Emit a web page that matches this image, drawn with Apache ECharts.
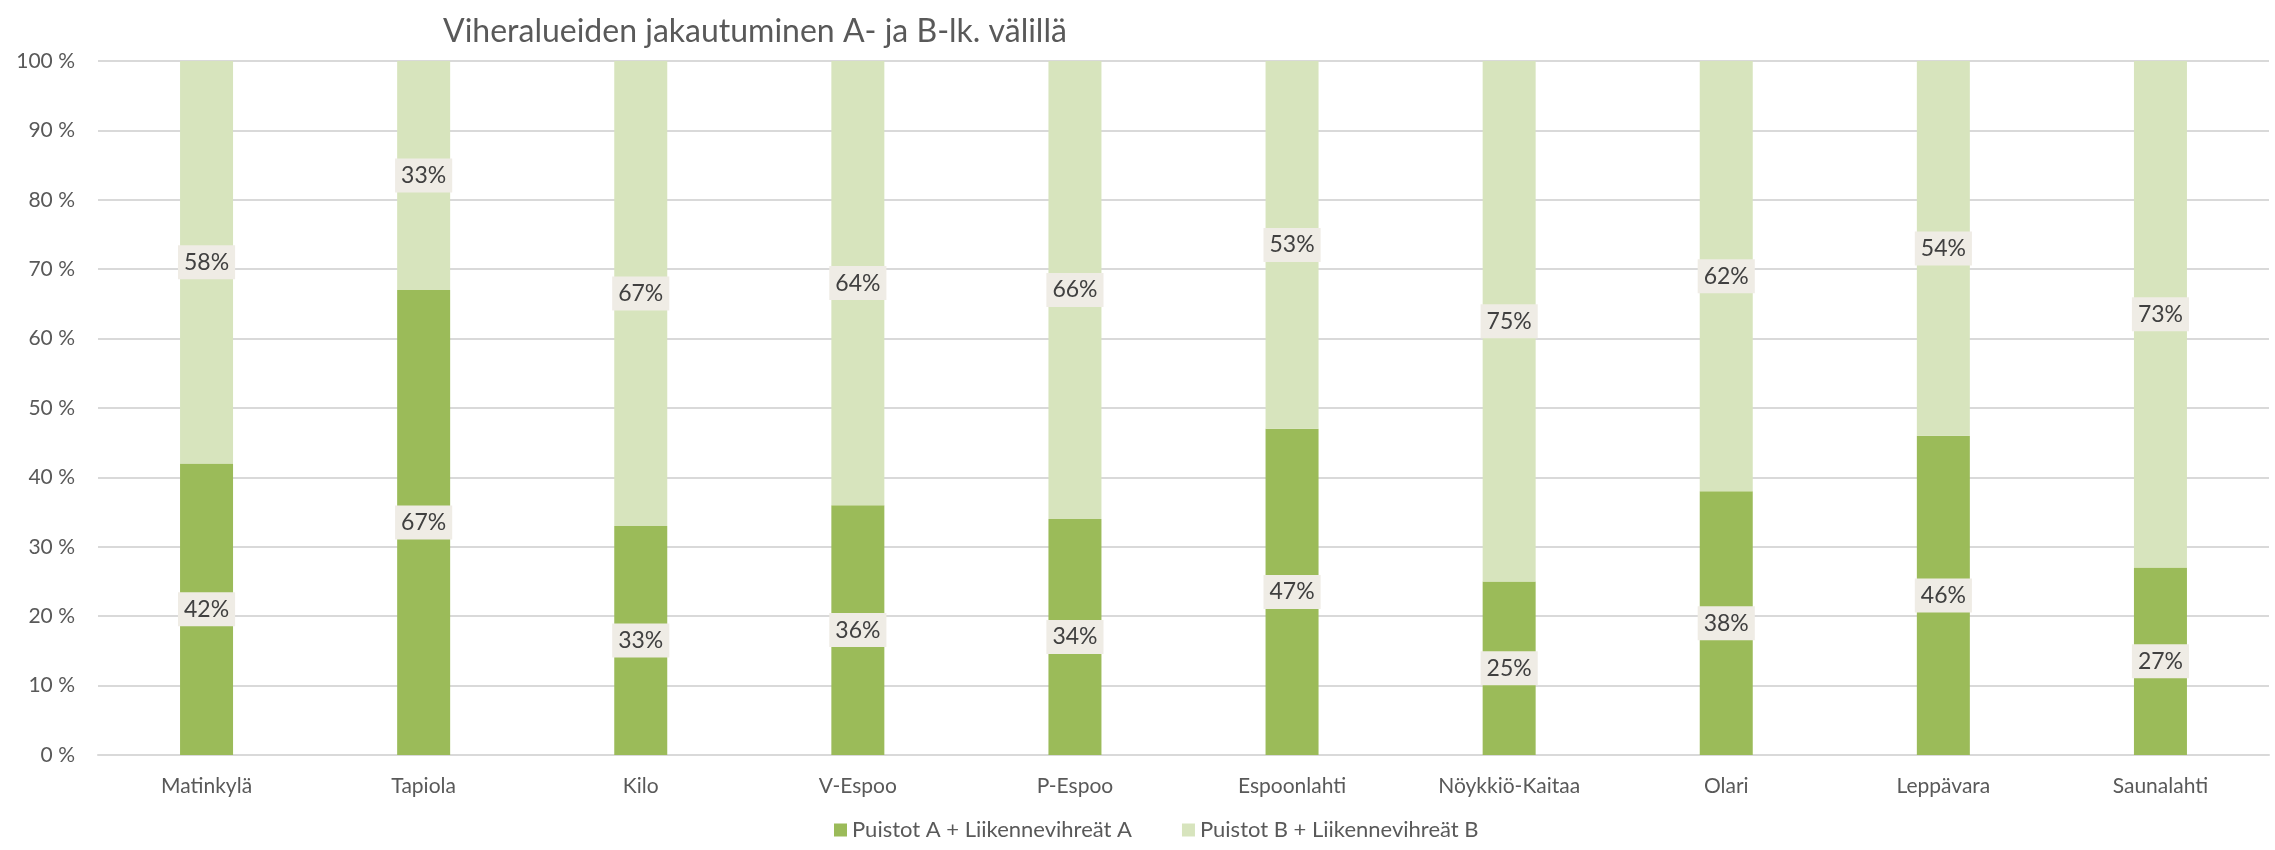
<!DOCTYPE html>
<html>
<head>
<meta charset="utf-8">
<script src="https://cdn.jsdelivr.net/npm/echarts@6/dist/echarts.min.js"></script>
<style>
  html, body { margin: 0; padding: 0; background: #fff; }
  #main { width: 2275px; height: 850px; }
</style>
</head>
<body>
<div id="main"></div>
<script>
var alueet = ['Matinkylä', 'Tapiola', 'Kilo', 'V-Espoo', 'P-Espoo', 'Espoonlahti', 'Nöykkiö-Kaitaa', 'Olari', 'Leppävara', 'Saunalahti'];
var sarjaA = [42, 67, 33, 36, 34, 47, 25, 38, 46, 27];   // Puistot A + Liikennevihreät A
var sarjaB = [58, 33, 67, 64, 66, 53, 75, 62, 54, 73];   // Puistot B + Liikennevihreät B
var nimet = ['Puistot A + Liikennevihreät A', 'Puistot B + Liikennevihreät B'];

var fontti = 'Lato, "DejaVu Sans", sans-serif';

var myChart = echarts.init(document.getElementById('main'));

// yhteinen datalabel tyyli
var labelTyyli = {
  show: true,
  position: 'inside',
  formatter: '{c}%',
  fontFamily: fontti,
  fontSize: 23,
  color: '#404040',
  backgroundColor: '#efece5',
  padding: [6, 6, 5, 6]
};

var option = {
  animation: false,
  title: {
    text: 'Viheralueiden jakautuminen A- ja B-lk. välillä',
    left: 438,
    top: 11,
    textStyle: {
      fontFamily: fontti,
      fontSize: 32,
      fontWeight: 'normal',
      color: '#595959'
    }
  },
  legend: {
    data: nimet,
    bottom: 4,
    left: 829,
    itemWidth: 13,
    itemHeight: 13,
    itemGap: 50,
    icon: 'rect',
    textStyle: { fontFamily: fontti, fontSize: 22, color: '#595959' }
  },
  grid: {
    left: 98,
    right: 6,
    top: 61,
    bottom: 95
  },
  xAxis: {
    type: 'category',
    data: alueet,
    axisTick: { show: false },
    axisLine: { lineStyle: { color: '#d9d9d9', width: 2 } },
    axisLabel: {
      margin: 21,
      fontFamily: fontti,
      fontSize: 21,
      color: '#595959'
    }
  },
  yAxis: {
    type: 'value',
    min: 0,
    max: 100,
    interval: 10,
    axisLabel: {
      formatter: '{value} %',
      margin: 23,
      fontFamily: fontti,
      fontSize: 21,
      color: '#595959'
    },
    splitLine: { lineStyle: { color: '#d9d9d9', width: 2 } }
  },
  series: [{
    name: nimet[0],
    type: 'bar',
    stack: 'yht',
    barWidth: 53,
    data: sarjaA,
    itemStyle: { color: '#9bbb59' },
    label: labelTyyli
  }, {
    name: nimet[1],
    type: 'bar',
    stack: 'yht',
    barWidth: 53,
    data: sarjaB,
    itemStyle: { color: '#d7e4bd' },
    label: labelTyyli
  }]
};
myChart.setOption(option);
</script>
</body>
</html>
